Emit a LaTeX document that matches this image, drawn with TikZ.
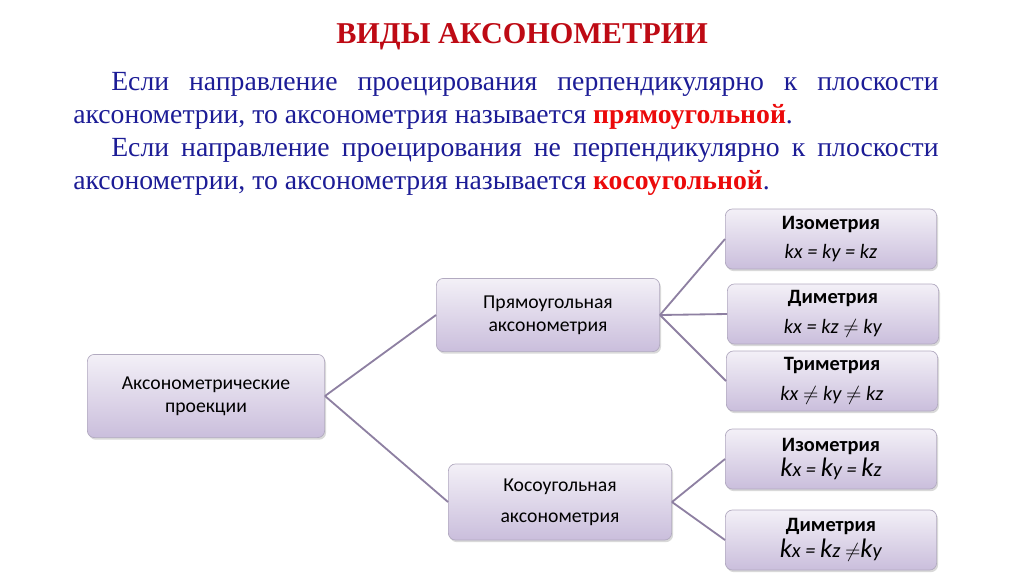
\documentclass[tikz,border=0pt]{standalone}
\usepackage{fontspec}
\setmainfont{Liberation Serif}
\newfontfamily\boxfont{Carlito}
\usetikzlibrary{positioning,shadows}
\definecolor{ctitle}{RGB}{190,10,20}
\definecolor{cred}{RGB}{235,10,10}
\definecolor{cblue}{RGB}{28,28,150}
\definecolor{ctop}{RGB}{243,240,247}
\definecolor{cbot}{RGB}{202,190,220}
\definecolor{cedge}{RGB}{178,170,192}
\definecolor{cline}{RGB}{142,128,162}
\tikzset{
  box/.style={rectangle, rounded corners=5pt,
    draw=cedge, line width=0.5pt, top color=ctop, bottom color=cbot,
    drop shadow={opacity=0.3, shadow xshift=1pt, shadow yshift=-1.5pt},
    minimum width=5.28cm, minimum height=1.5cm,
    font=\boxfont\fontsize{14.5}{21}\selectfont, align=center},
  bigbox/.style={box, font=\boxfont\fontsize{14}{16.5}\selectfont},
  link/.style={line width=1.3pt, color=cline}
}
\newcommand{\kbig}[1]{{\fontsize{19}{19}\selectfont k}#1}

\begin{document}
\begin{tikzpicture}[x=0.025cm, y=-0.025cm]
    \useasboundingbox (0,0) rectangle (1024,574);
    \node[font=\bfseries\fontsize{21.5}{24}\selectfont, text=ctitle] (title) at (522,37)
        {ВИДЫ АКСОНОМЕТРИИ};
    \node[anchor=north west, inner sep=0pt, text width=21.63cm, align=justify, text=cblue,
        font=\fontsize{19.7}{23.4}\selectfont] (intro) at (73,72)
        {\hspace*{0.95cm}Если направление проецирования перпендикулярно к плоскости
        аксонометрии, то аксонометрия называется {\color{cred}\bfseries прямоугольной}.\par
        \hspace*{0.95cm}Если направление проецирования не перпендикулярно к плоскости
        аксонометрии, то аксонометрия называется {\color{cred}\bfseries косоугольной}.};
    % tree of projections
    \node[bigbox, minimum width=5.93cm, minimum height=2.08cm] (axon) at (206,396)
        {Аксонометрические\\проекции};
    \node[bigbox, minimum width=5.58cm, minimum height=1.83cm] (rect) at (548,315)
        {Прямоугольная\\аксонометрия};
    \node[bigbox, minimum width=5.58cm, minimum height=1.9cm,
        font=\boxfont\fontsize{14}{22}\selectfont] (obl) at (560,502)
        {Косоугольная\\аксонометрия};
    \node[box] (iso) at (831,239)
        {\textbf{Изометрия}\\\textit{kx = ky = kz}};
    \node[box] (dim) at (833,314)
        {\textbf{Диметрия}\\\textit{kx = kz $\neq$ ky}};
    \node[box] (tri) at (832,381)
        {\textbf{Триметрия}\\\textit{kx $\neq$ ky $\neq$ kz}};
    \node[box] (isob) at (831,459)
        {\textbf{Изометрия}\\[-3pt]\textit{\kbig{x} = \kbig{y} = \kbig{z}}};
    \node[box] (dimb) at (831,540)
        {\textbf{Диметрия}\\[-3pt]\textit{\kbig{x} = \kbig{z} $\neq$\kbig{y}}};
    \draw[link] (axon.east) -- (rect.west);
    \draw[link] (axon.east) -- (obl.west);
    \foreach \t in {iso, dim, tri}
      \draw[link] (rect.east) -- (\t.west);
    \foreach \t in {isob, dimb}
      \draw[link] (obl.east) -- (\t.west);
\end{tikzpicture}
\end{document}
